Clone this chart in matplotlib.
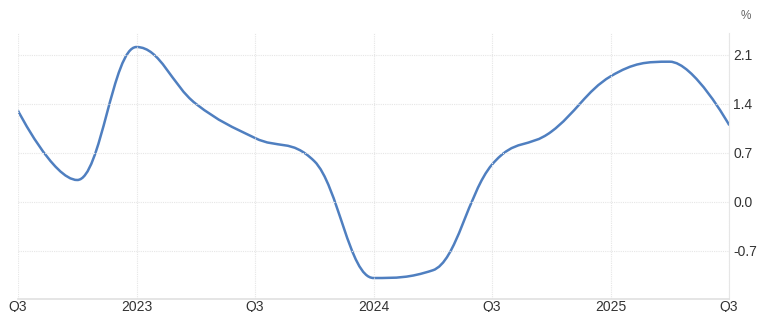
import numpy as np
import matplotlib.pyplot as plt
from matplotlib.path import Path
from matplotlib.patches import PathPatch

plt.rcParams['font.family'] = ['Liberation Sans', 'DejaVu Sans']

# quarterly values, Q3 2022 .. Q3 2025
quarters = ['Q3 22', 'Q4 22', 'Q1 23', 'Q2 23', 'Q3 23', 'Q4 23', 'Q1 24',
            'Q2 24', 'Q3 24', 'Q4 24', 'Q1 25', 'Q2 25', 'Q3 25']
values = [1.30, 0.31, 2.21, 1.40, 0.91, 0.58, -1.09,
          -0.98, 0.53, 1.00, 1.79, 2.00, 1.10]
tick_labels = ['Q3', '2023', 'Q3', '2024', 'Q3', '2025', 'Q3']
y_ticks = [-0.7, 0.0, 0.7, 1.4, 2.1]


def spline_path(x, y, smoothing=1.5):
    # bezier spline with flattened extremes (highcharts-like smoothing)
    n = len(x)
    left = [(x[0], y[0])] * n
    right = [(x[0], y[0])] * n
    for i in range(n):
        if i == 0 or i == n - 1:
            left[i] = right[i] = (x[i], y[i])
            continue
        lx = (smoothing * x[i] + x[i - 1]) / (smoothing + 1)
        ly = (smoothing * y[i] + y[i - 1]) / (smoothing + 1)
        rx = (smoothing * x[i] + x[i + 1]) / (smoothing + 1)
        ry = (smoothing * y[i] + y[i + 1]) / (smoothing + 1)
        corr = (ry - ly) * (rx - x[i]) / (rx - lx) + y[i] - ry
        ly += corr
        ry += corr
        if ly > y[i - 1] and ly > y[i]:
            ly = max(y[i - 1], y[i])
            ry = 2 * y[i] - ly
        elif ly < y[i - 1] and ly < y[i]:
            ly = min(y[i - 1], y[i])
            ry = 2 * y[i] - ly
        if ry > y[i + 1] and ry > y[i]:
            ry = max(y[i + 1], y[i])
            ly = 2 * y[i] - ry
        elif ry < y[i + 1] and ry < y[i]:
            ry = min(y[i + 1], y[i])
            ly = 2 * y[i] - ry
        left[i] = (lx, ly)
        right[i] = (rx, ry)
    verts = [(x[0], y[0])]
    codes = [Path.MOVETO]
    for i in range(1, n):
        verts += [right[i - 1], left[i], (x[i], y[i])]
        codes += [Path.CURVE4] * 3
    return Path(verts, codes)


xq = list(range(len(values)))

fig = plt.figure(figsize=(7.6, 3.12), dpi=100)
ax = fig.add_axes([18 / 760, 13 / 312, 711 / 760, 266 / 312])

ax.add_patch(PathPatch(spline_path(xq, values), facecolor='none',
                       edgecolor='#4f7fc0', linewidth=1.8, capstyle='round'))

ax.set_xlim(0, 12)
ax.set_ylim(-1.39, 2.41)
ax.set_xticks(range(0, 13, 2))
ax.set_xticklabels(tick_labels)
ax.set_yticks(y_ticks)
ax.set_yticklabels(['%.1f' % v for v in y_ticks])

ax.yaxis.tick_right()
ax.tick_params(axis='both', length=0, labelsize=10, colors='#333333')
ax.tick_params(axis='y', pad=3)
ax.tick_params(axis='x', pad=0.5)

ax.grid(True, color='#e6e6e6', linestyle=(0, (1, 1)), linewidth=0.8)
for s in ['top', 'left']:
    ax.spines[s].set_visible(False)
ax.spines['right'].set_color('#e6e6e6')
ax.spines['bottom'].set_color('#e0e0e0')
ax.spines['bottom'].set_linewidth(1.2)

fig.text(746 / 760, 1 - 16 / 312, '%', ha='center', va='center',
         fontsize=8.5, color='#666666')

fig.savefig('out.png', dpi=100)
